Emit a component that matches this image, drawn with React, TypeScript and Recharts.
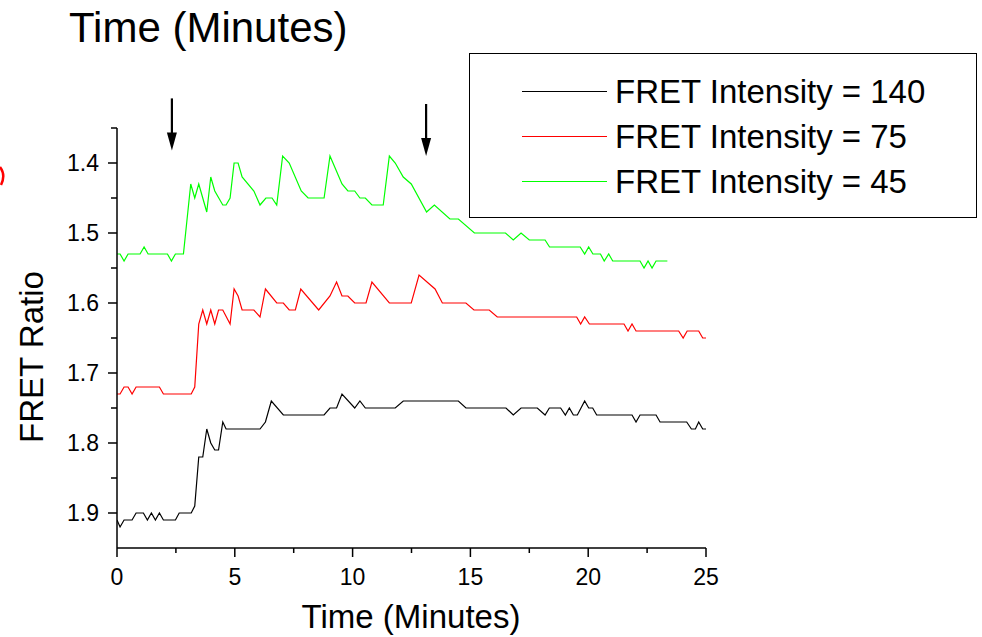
import { LineChart, Line, XAxis, YAxis, Legend, ReferenceDot } from 'recharts';

const FONT = '"Liberation Sans", Arial, sans-serif';

// [time (min), FRET ratio]
const FRET_140: [number, number][] = [
  [0, 1.91], [0.13, 1.92], [0.3, 1.91], [0.64, 1.91], [0.81, 1.9], [1.12, 1.9], [1.29, 1.91],
  [1.46, 1.9], [1.63, 1.91], [1.8, 1.9], [1.97, 1.91], [2.48, 1.91], [2.64, 1.9], [3.15, 1.9],
  [3.3, 1.89], [3.47, 1.82], [3.64, 1.82], [3.81, 1.78], [3.98, 1.8], [4.15, 1.81], [4.31, 1.81],
  [4.49, 1.77], [4.63, 1.78], [6.07, 1.78], [6.3, 1.77], [6.55, 1.74], [7.06, 1.76], [8.79, 1.76],
  [9.04, 1.75], [9.32, 1.75], [9.55, 1.73], [10.09, 1.75], [10.31, 1.74], [10.54, 1.75],
  [11.81, 1.75], [12.15, 1.74], [14.49, 1.74], [14.81, 1.75], [16.51, 1.75], [16.82, 1.76],
  [17.15, 1.75], [17.84, 1.75], [18.17, 1.76], [18.35, 1.75], [18.83, 1.75], [19.03, 1.76],
  [19.2, 1.75], [19.37, 1.76], [19.54, 1.76], [19.85, 1.74], [20.02, 1.75], [20.19, 1.75],
  [20.36, 1.76], [21.86, 1.76], [22.03, 1.77], [22.2, 1.76], [22.88, 1.76], [23.05, 1.77],
  [24.18, 1.77], [24.38, 1.78], [24.55, 1.78], [24.69, 1.77], [24.86, 1.78], [25, 1.78],
];

const FRET_75: [number, number][] = [
  [0, 1.73], [0.13, 1.73], [0.3, 1.72], [0.47, 1.72], [0.64, 1.73], [0.81, 1.72], [1.8, 1.72],
  [1.97, 1.73], [3.15, 1.73], [3.3, 1.72], [3.47, 1.63], [3.64, 1.61], [3.81, 1.63], [3.98, 1.61],
  [4.15, 1.63], [4.31, 1.61], [4.49, 1.61], [4.8, 1.63], [4.97, 1.58], [5.14, 1.59], [5.31, 1.61],
  [5.81, 1.61], [6.07, 1.62], [6.3, 1.58], [6.78, 1.6], [7.06, 1.6], [7.31, 1.61], [7.57, 1.61],
  [7.8, 1.58], [8.56, 1.61], [9.04, 1.59], [9.32, 1.57], [9.55, 1.59], [9.8, 1.59], [10.09, 1.6],
  [10.57, 1.6], [10.82, 1.57], [11.56, 1.6], [12.49, 1.6], [12.82, 1.56], [13.5, 1.58],
  [13.81, 1.6], [14.81, 1.6], [15.15, 1.61], [15.8, 1.61], [16.14, 1.62], [19.51, 1.62],
  [19.68, 1.63], [19.85, 1.62], [20.05, 1.63], [21.52, 1.63], [21.69, 1.64], [21.86, 1.63],
  [22.03, 1.64], [23.84, 1.64], [24.03, 1.65], [24.2, 1.64], [24.69, 1.64], [24.86, 1.65], [25, 1.65],
];

const FRET_45: [number, number][] = [
  [0, 1.53], [0.13, 1.53], [0.3, 1.54], [0.47, 1.53], [0.98, 1.53], [1.15, 1.52], [1.32, 1.53],
  [2.14, 1.53], [2.31, 1.54], [2.48, 1.53], [2.82, 1.53], [3.13, 1.43], [3.3, 1.45], [3.47, 1.43],
  [3.81, 1.47], [3.98, 1.42], [4.15, 1.44], [4.49, 1.46], [4.63, 1.46], [4.8, 1.45], [4.97, 1.4],
  [5.14, 1.4], [5.31, 1.42], [5.81, 1.44], [6.07, 1.46], [6.32, 1.45], [6.58, 1.45], [6.78, 1.46],
  [7.03, 1.39], [7.31, 1.4], [7.82, 1.44], [8.11, 1.45], [8.79, 1.45], [9.04, 1.39], [9.55, 1.43],
  [9.8, 1.44], [10.09, 1.44], [10.31, 1.45], [10.54, 1.45], [10.82, 1.46], [11.3, 1.46],
  [11.56, 1.39], [11.81, 1.4], [12.15, 1.42], [12.49, 1.43], [13.14, 1.47], [13.47, 1.46],
  [14.13, 1.48], [14.49, 1.48], [15.17, 1.5], [16.49, 1.5], [16.82, 1.51], [17.15, 1.5],
  [17.5, 1.51], [18.17, 1.51], [18.36, 1.52], [19.66, 1.52], [19.85, 1.53], [20.02, 1.52],
  [20.2, 1.53], [20.52, 1.53], [20.68, 1.54], [20.87, 1.53], [21.04, 1.54], [22.2, 1.54],
  [22.37, 1.55], [22.54, 1.54], [22.71, 1.55], [22.88, 1.54], [23.36, 1.54],
];

const SERIES = [
  { name: 'FRET Intensity = 140', color: '#000000', points: FRET_140 },
  { name: 'FRET Intensity = 75', color: '#ff0000', points: FRET_75 },
  { name: 'FRET Intensity = 45', color: '#00ff00', points: FRET_45 },
];

const X_TICKS = [0, 2.5, 5, 7.5, 10, 12.5, 15, 17.5, 20, 22.5, 25];
const X_LABELS = [0, 5, 10, 15, 20, 25];
const Y_TICKS = [1.35, 1.4, 1.45, 1.5, 1.55, 1.6, 1.65, 1.7, 1.75, 1.8, 1.85, 1.9];
const Y_LABELS = [1.4, 1.5, 1.6, 1.7, 1.8, 1.9];

// arrow tips (time, ratio)
const ARROWS: [number, number][] = [
  [2.33, 1.382],
  [13.12, 1.39],
];

function XTick({ x, y, payload }: any) {
  const major = X_LABELS.includes(payload.value);
  return (
    <g>
      <line x1={x} x2={x} y1={y} y2={y + (major ? 9 : 5)} stroke="#000" strokeWidth={1.5} />
      {major && (
        <text x={x} y={y + 37} textAnchor="middle" fontSize={23} fontFamily={FONT} fill="#000">
          {payload.value}
        </text>
      )}
    </g>
  );
}

function YTick({ x, y, payload }: any) {
  const major = Y_LABELS.includes(payload.value);
  return (
    <g>
      <line x1={x - (major ? 9 : 6)} x2={x} y1={y} y2={y} stroke="#000" strokeWidth={1.5} />
      {major && (
        <text x={x - 18} y={y} dy="0.36em" textAnchor="end" fontSize={23} fontFamily={FONT} fill="#000">
          {payload.value.toFixed(1)}
        </text>
      )}
    </g>
  );
}

function Arrow({ cx, cy }: any) {
  return (
    <g>
      <line x1={cx} x2={cx} y1={cy - 52} y2={cy - 15} stroke="#000" strokeWidth={2.2} />
      <polygon points={`${cx - 5},${cy - 18} ${cx + 5},${cy - 18} ${cx},${cy}`} fill="#000" />
    </g>
  );
}

function LegendBox() {
  return (
    <div
      style={{
        boxSizing: 'border-box',
        width: 508,
        height: 165,
        border: '1.5px solid #000',
        background: '#fff',
        paddingTop: 15,
        fontFamily: FONT,
      }}
    >
      {SERIES.map((s) => (
        <div key={s.name} style={{ display: 'flex', alignItems: 'center', height: 45 }}>
          <div style={{ marginLeft: 52, width: 85, height: 1, background: s.color }} />
          <span style={{ marginLeft: 8, fontSize: 33, lineHeight: 1, color: '#000', whiteSpace: 'nowrap' }}>
            {s.name}
          </span>
        </div>
      ))}
    </div>
  );
}

export default function App() {
  return (
    <div style={{ position: 'relative', width: 982, height: 637, background: '#fff' }}>
      <style>{'body { margin: 0; }'}</style>
      <LineChart width={982} height={637} margin={{ top: 128, right: 276, bottom: 0, left: 0 }}>
        <XAxis
          dataKey="t"
          type="number"
          domain={[0, 25]}
          allowDataOverflow
          ticks={X_TICKS}
          interval={0}
          tick={<XTick />}
          tickLine={false}
          tickSize={0}
          tickMargin={0}
          height={89}
          axisLine={{ stroke: '#000', strokeWidth: 1.5 }}
          label={{
            content: () => (
              <text x={411} y={628} textAnchor="middle" fontSize={33} fontFamily={FONT} fill="#000">
                Time (Minutes)
              </text>
            ),
          }}
        />
        <YAxis
          dataKey="v"
          type="number"
          domain={[1.35, 1.95]}
          reversed
          allowDataOverflow
          ticks={Y_TICKS}
          interval={0}
          tick={<YTick />}
          tickLine={false}
          tickSize={0}
          tickMargin={0}
          width={117}
          axisLine={{ stroke: '#000', strokeWidth: 1.5 }}
          label={{
            content: () => (
              <text
                transform="translate(31,357) rotate(-90)"
                dy="0.36em"
                textAnchor="middle"
                fontSize={33}
                fontFamily={FONT}
                fill="#000"
              >
                FRET Ratio
              </text>
            ),
          }}
        />
        {SERIES.map((s) => (
          <Line
            key={s.name}
            name={s.name}
            data={s.points.map(([t, v]) => ({ t, v }))}
            dataKey="v"
            type="linear"
            stroke={s.color}
            strokeWidth={1.2}
            dot={false}
            activeDot={false}
            isAnimationActive={false}
          />
        ))}
        {ARROWS.map(([t, v]) => (
          <ReferenceDot key={t} x={t} y={v} ifOverflow="visible" shape={(p: any) => <Arrow cx={p.cx} cy={p.cy} />} />
        ))}
        <Legend
          layout="vertical"
          align="center"
          verticalAlign="middle"
          wrapperStyle={{ left: 469, top: 53, width: 508, height: 165 }}
          content={() => <LegendBox />}
        />
      </LineChart>
      <svg
        width={982}
        height={637}
        style={{ position: 'absolute', left: 0, top: 0, pointerEvents: 'none' }}
      >
        <text x={69} y={42} fontSize={42} fontFamily={FONT} fill="#000">
          Time (Minutes)
        </text>
        <path d="M0,167 Q6,175 1,185" stroke="#ff0000" strokeWidth={2.5} fill="none" />
      </svg>
    </div>
  );
}
